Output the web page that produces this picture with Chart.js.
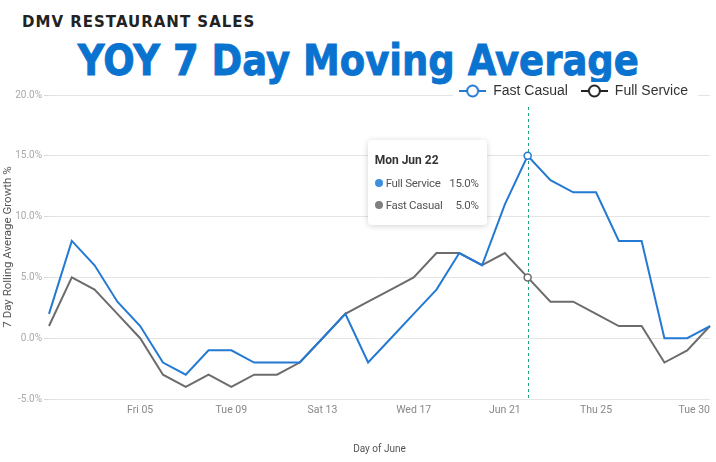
<!DOCTYPE html>
<html>
<head>
<meta charset="utf-8">
<script src="https://cdn.jsdelivr.net/npm/chart.js@4.4.1/dist/chart.umd.min.js"></script>
<style>
  html, body { margin: 0; padding: 0; background: #fff; }
  #wrap { position: relative; width: 716px; height: 462px; overflow: hidden; }
  #chart { position: absolute; left: 0; top: 0; }
  .kicker {
    position: absolute; left: 22px; top: 15px;
    font: bold 15px/15px "DejaVu Sans", sans-serif; letter-spacing: 1px;
    color: #222; white-space: nowrap;
  }
  .headline {
    position: absolute; left: 0; top: 39px; width: 716px; text-align: center;
    font: bold 43px/43px "DejaVu Sans", sans-serif; color: #0a72cf;
  }
  .headline span {
    display: inline-block; transform: scaleX(0.86); white-space: nowrap;
    -webkit-text-stroke: 0.9px #0a72cf;
  }
  #tip {
    position: absolute; display: none; box-sizing: border-box; width: 119px;
    padding: 13px 8px 9px 7px; background: #fff; border-radius: 4px;
    box-shadow: 0 1px 6px rgba(0, 0, 0, 0.18);
    font: 11.5px Roboto, sans-serif; letter-spacing: -0.3px; color: #555;
    white-space: nowrap;
  }
  #tip .t { font-weight: bold; font-size: 12px; letter-spacing: 0; color: #333; line-height: 14px; margin-bottom: 5px; }
  #tip .row { display: flex; align-items: center; line-height: 22px; }
  #tip .dot { flex: none; width: 8px; height: 8px; border-radius: 50%; margin-right: 3px; }
  #tip .v { margin-left: auto; }
</style>
</head>
<body>
<div id="wrap">
  <div class="kicker">DMV RESTAURANT SALES</div>
  <div class="headline"><span>YOY 7 Day Moving Average</span></div>
  <canvas id="chart" width="716" height="462"></canvas>
  <div id="tip"></div>
</div>
<script>
// June days and weekday names (June 1st is a Monday)
const days = [1, 2, 3, 4, 5, 6, 7, 8, 9, 10, 11, 12, 13, 14, 15, 16, 17, 18, 19, 20, 21, 22, 23, 24, 25, 26, 27, 28, 29, 30];
const weekdays = ['Mon', 'Tue', 'Wed', 'Thu', 'Fri', 'Sat', 'Sun'];

// x axis tick labels
const tickDays = [5, 9, 13, 17, 21, 25, 30];
const tickLabels = ['Fri 05', 'Tue 09', 'Sat 13', 'Wed 17', 'Jun 21', 'Thu 25', 'Tue 30'];

// series (YOY growth %)
const fastCasual = [2, 8, 6, 3, 1, -2, -3, -1, -1, -2, -2, -2, 0, 2, -2, 0, 2, 4, 7, 6, 11, 15, 13, 12, 12, 8, 8, 0, 0, 1];
const fullService = [1, 5, 4, 2, 0, -3, -4, -3, -4, -3, -3, -2, 0, 2, 3, 4, 5, 7, 7, 6, 7, 5, 3, 3, 2, 1, 1, -2, -1, 1];

const seriesNames = ['Fast Casual', 'Full Service'];
const tooltipNames = ['Full Service', 'Fast Casual'];
const lineColors = ['#2479d3', '#6c6c6c'];
const markerColors = ['#2479d3', '#222222'];
const tipDots = ['#3d8fe0', '#808080'];

const highlightDay = 22;

Chart.defaults.font.family = 'Roboto, "Liberation Sans", sans-serif';

function dayTitle(day) {
    return weekdays[(day - 1) % 7] + ' Jun ' + String(day).padStart(2, '0');
}

/**
 * Legend marker: short line with an open circle
 */
function legendMarker(color) {
    const c = document.createElement('canvas');
    c.width = 27;
    c.height = 16;
    const g = c.getContext('2d');
    g.strokeStyle = color;
    g.lineWidth = 2;
    g.beginPath();
    g.moveTo(0, 8);
    g.lineTo(27, 8);
    g.stroke();
    g.beginPath();
    g.arc(13.5, 8, 5.5, 0, Math.PI * 2);
    g.fillStyle = '#fff';
    g.fill();
    g.stroke();
    return c;
}

// move the legend so it sits on the top gridline, like the original
const legendShift = {
    id: 'legendShift',
    afterLayout(chart) {
        const lg = chart.legend;
        lg.top += 13; lg.bottom += 13;
        lg.left -= 9; lg.right -= 9;
    },
    beforeDatasetsDraw(chart) {
        const {ctx, legend: lg, chartArea} = chart;
        // white backing behind legend, then legend again on top
        const x0 = lg.right - lg.lineWidths[0] - 6;
        const x1 = lg.right - 3;
        ctx.save();
        ctx.fillStyle = '#fff';
        ctx.fillRect(x0, lg.top + 11, x1 - x0, 18);
        ctx.restore();
        lg.draw();

        // dashed hover line
        const active = chart.getActiveElements();
        if (active.length) {
            const x = Math.round(active[0].element.x) + 0.5;
            ctx.save();
            ctx.strokeStyle = '#26a383';
            ctx.lineWidth = 1;
            ctx.setLineDash([3, 3]);
            ctx.beginPath();
            ctx.moveTo(x, chartArea.top + 12);
            ctx.lineTo(x, chartArea.bottom);
            ctx.stroke();
            ctx.restore();
        }
    }
};

function externalTooltip(context) {
    const {chart, tooltip} = context;
    const el = document.getElementById('tip');
    if (tooltip.opacity === 0 || !tooltip.dataPoints || !tooltip.dataPoints.length) {
        el.style.display = 'none';
        return;
    }
    let html = '<div class="t">' + tooltip.title[0] + '</div>';
    tooltip.dataPoints.forEach(dp => {
        html += '<div class="row"><span class="dot" style="background:' + tipDots[dp.datasetIndex] + '"></span>'
            + '<span>' + tooltipNames[dp.datasetIndex] + '</span>'
            + '<span class="v">' + dp.parsed.y.toFixed(1) + '%</span></div>';
    });
    el.innerHTML = html;
    el.style.display = 'block';
    el.style.left = (tooltip.caretX - 160) + 'px';
    el.style.top = (chart.chartArea.top + 45) + 'px';
}

const ctx = document.getElementById('chart').getContext('2d');

const chart = new Chart(ctx, {
    type: 'line',
    data: {
        labels: days,
        datasets: [fastCasual, fullService].map((values, i) => ({
            label: seriesNames[i],
            data: values,
            borderColor: lineColors[i],
            backgroundColor: lineColors[i],
            borderWidth: 2,
            tension: 0,
            pointRadius: 0,
            pointHoverRadius: 3.5,
            pointHoverBorderWidth: 1.5,
            pointHoverBackgroundColor: '#fff',
            pointHoverBorderColor: lineColors[i]
        }))
    },
    options: {
        responsive: false,
        animation: false,
        events: [],
        layout: { padding: { top: 58, right: 6, bottom: 3, left: 0 } },
        interaction: { mode: 'index', intersect: false },
        plugins: {
            legend: {
                position: 'top',
                align: 'end',
                labels: {
                    usePointStyle: true,
                    pointStyleWidth: 27,
                    padding: 13,
                    color: '#333',
                    font: { size: 14, family: '"Liberation Sans", Arial, sans-serif' },
                    generateLabels(chart) {
                        const items = Chart.defaults.plugins.legend.labels.generateLabels(chart);
                        items.forEach((it, i) => { it.pointStyle = legendMarker(markerColors[i]); });
                        return items;
                    }
                }
            },
            tooltip: {
                enabled: false,
                external: externalTooltip,
                callbacks: {
                    title: items => dayTitle(days[items[0].dataIndex])
                }
            }
        },
        scales: {
            x: {
                grid: { display: false, drawTicks: false },
                border: { display: false },
                ticks: {
                    autoSkip: false,
                    maxRotation: 0,
                    align: 'inner',
                    padding: 5,
                    color: '#888',
                    font: { size: 10.5 },
                    callback: (value, index) => {
                        const k = tickDays.indexOf(days[index]);
                        return k >= 0 ? tickLabels[k] : '';
                    }
                },
                title: {
                    display: true,
                    text: 'Day of June',
                    color: '#555',
                    font: { size: 10 },
                    padding: { top: 4, bottom: 4 }
                },
                afterFit: scale => { scale.height = 60; }
            },
            y: {
                min: -5,
                max: 20,
                grid: { color: '#e4e4e4', tickLength: 5, tickColor: '#d8d8d8' },
                border: { display: false },
                ticks: {
                    stepSize: 5,
                    padding: 2,
                    color: '#aaa',
                    font: { size: 10 },
                    callback: v => v.toFixed(1) + '%'
                },
                title: {
                    display: true,
                    text: '7 Day Rolling Average Growth %',
                    color: '#555',
                    font: { size: 11.5 },
                    padding: { top: 1, bottom: 2 }
                },
                afterFit: scale => { scale.width = 49; }
            }
        }
    },
    plugins: [legendShift]
});

// show the Jun 22 hover state like the screenshot
const idx = days.indexOf(highlightDay);
const active = [{ datasetIndex: 0, index: idx }, { datasetIndex: 1, index: idx }];
chart.setActiveElements(active);
const pt = chart.getDatasetMeta(0).data[idx];
chart.tooltip.setActiveElements(active, { x: pt.x, y: pt.y });
chart.update('none');
</script>
</body>
</html>
